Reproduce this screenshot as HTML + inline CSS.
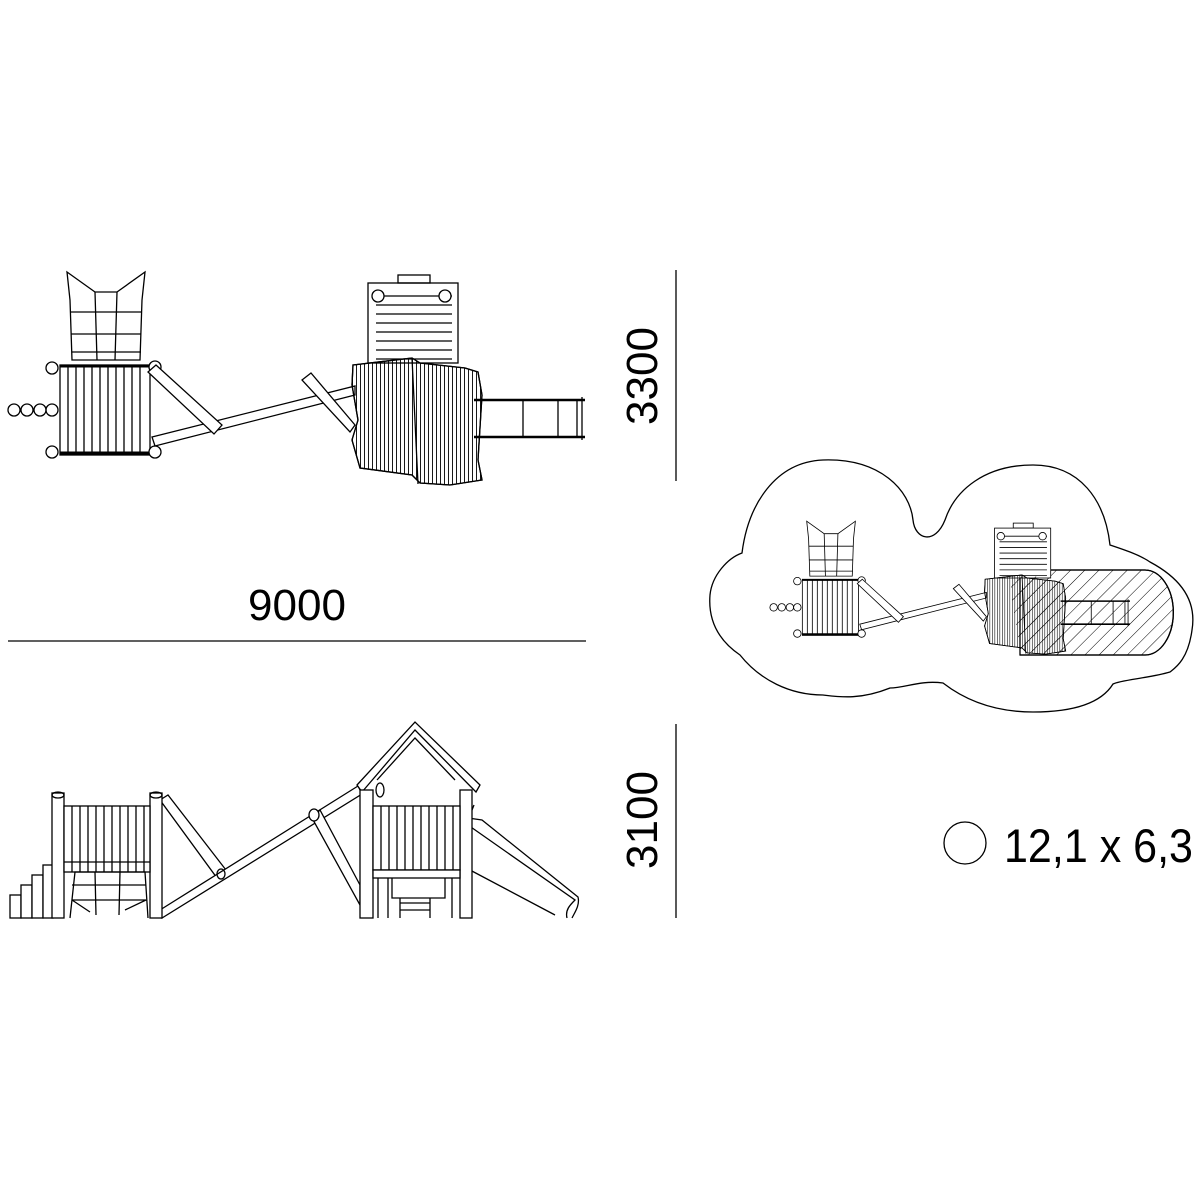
<!DOCTYPE html>
<html><head><meta charset="utf-8"><style>html,body{margin:0;padding:0;background:#fff}svg{display:block}</style></head>
<body>
<svg width="1200" height="1200" viewBox="0 0 1200 1200" xmlns="http://www.w3.org/2000/svg" fill="none" stroke="#000" stroke-width="1.3" font-family="Liberation Sans, sans-serif">
<defs>
<pattern id="vl" width="4" height="10" patternUnits="userSpaceOnUse"><line x1="0.5" y1="0" x2="0.5" y2="10" stroke="#000" stroke-width="0.9"/></pattern>
<pattern id="hatch" width="10" height="10" patternUnits="userSpaceOnUse" patternTransform="rotate(45)"><line x1="0" y1="0" x2="0" y2="10" stroke="#000" stroke-width="1"/></pattern>
<g id="top">
  <!-- net -->
  <path d="M67,272 L95,292 L117,292 L145,272 L142,300 L140,360 L72,360 L70,300 Z" fill="#fff"/>
  <path d="M95,292 L97,360 M117,292 L115,360 M70,312 L142,312 M71,334 L141,334 M72,352 L141,352"/>
  <!-- platform -->
  <rect x="60" y="365" width="90" height="90" fill="#fff"/>
  <path d="M68,365V455 M76,365V455 M84,365V455 M92,365V455 M100,365V455 M108,365V455 M116,365V455 M124,365V455 M132,365V455 M140,365V455"/>
  <path d="M60,366H150 M60,453H150" stroke-width="3"/>
  <circle cx="52" cy="368" r="6" fill="#fff"/><circle cx="155" cy="367" r="6" fill="#fff"/>
  <circle cx="52" cy="452" r="6" fill="#fff"/><circle cx="155" cy="452" r="6" fill="#fff"/>
  <circle cx="14" cy="410" r="6"/><circle cx="27" cy="410" r="6"/><circle cx="40" cy="410" r="6"/><circle cx="52" cy="410" r="6"/>
  <!-- beams -->
  <path d="M152,437 L355,386 L355,395 L155,446 Z" fill="#fff"/>
  <path d="M148,372 L156,365 L222,425 L214,434 Z" fill="#fff"/>
  <path d="M302,380 L311,373 L355,425 L350,432 Z" fill="#fff"/>
  <!-- tower roof top -->
  <rect x="368" y="283" width="90" height="80" fill="#fff"/>
  <rect x="398" y="275" width="32" height="8"/>
  <path d="M376,296H452 M376,305H452 M376,314H452 M376,323H452 M376,332H452 M376,341H452 M376,350H452 M376,359H452"/>
  <circle cx="378" cy="296" r="6" fill="#fff"/><circle cx="445" cy="296" r="6" fill="#fff"/>
  <!-- irregular tower -->
  <path d="M353,365 L412,358 L420,363 L465,368 L478,372 L482,395 L478,460 L482,480 L450,485 L420,483 L412,475 L360,468 L352,440 L358,420 L352,385 Z" fill="url(#vl)"/>
  <path d="M353,365 L412,358 L420,363 L465,368 L478,372 L482,395 L478,460 L482,480 L450,485 L420,483 L412,475 L360,468 L352,440 L358,420 L352,385 Z"/>
  <path d="M412,358 L418,484"/>
  <!-- slide -->
  <path d="M474,400H585 M474,437H585" stroke-width="2.5"/>
  <path d="M523,400V437 M558,400V437 M577,400V437 M582,397V440"/>
</g>
</defs>

<use href="#top"/>

<!-- dimension lines -->
<line x1="676" y1="270" x2="676" y2="481"/>
<line x1="8" y1="641" x2="586" y2="641"/>
<line x1="676" y1="724" x2="676" y2="918"/>
<g fill="#000" stroke="none" font-size="44">
<text x="297" y="620" text-anchor="middle" textLength="98" lengthAdjust="spacingAndGlyphs">9000</text>
<text transform="translate(657,376) rotate(-90)" text-anchor="middle" textLength="98" lengthAdjust="spacingAndGlyphs">3300</text>
<text transform="translate(657,820) rotate(-90)" text-anchor="middle" textLength="98" lengthAdjust="spacingAndGlyphs">3100</text>
<text x="1004" y="862" font-size="47" textLength="189" lengthAdjust="spacingAndGlyphs">12,1 x 6,3</text>
</g>
<circle cx="965" cy="843" r="21"/>

<!-- plan with cloud -->
<path d="M710,595 C712,575 728,558 742,553 C748,505 775,462 823,460 C880,458 910,490 913,520 C915,540 935,545 945,520 C955,490 985,465 1033,465 C1080,465 1105,500 1110,545 C1125,550 1140,555 1150,562 C1180,578 1197,600 1192,630 C1188,660 1175,668 1170,672 C1150,678 1120,680 1113,684 C1100,705 1070,712 1033,712 C995,712 965,700 943,683 C920,680 905,688 890,688 C860,700 840,697 823,695 C790,695 760,680 740,655 C718,640 708,620 710,595 Z"/>
<path d="M1020,570 H1145 A28,42 0 0 1 1145,655 H1020 Z" fill="url(#hatch)"/>
<path d="M1020,570 H1145 A28,42 0 0 1 1145,655 H1020"/>
<use href="#top" transform="translate(764.9,351.5) scale(0.624)"/>
<path d="M1010,575 L1060,578 L1062,655 L1020,650 L1012,600 Z" fill="url(#hatch)" stroke="none"/>

<!-- side view: left tower -->
<g fill="#fff">
<rect x="10" y="895" width="11" height="23"/><rect x="21" y="885" width="11" height="33"/><rect x="32" y="875" width="11" height="43"/><rect x="43" y="865" width="10" height="53"/>
<path d="M160,800 L168,795 L226,870 L217,878 Z"/>
<path d="M160,910 L358,786 L362,794 L162,918 Z"/>
<rect x="52" y="793" width="12" height="125"/>
<rect x="150" y="793" width="12" height="125"/>
<rect x="64" y="806" width="86" height="66"/>
</g>
<ellipse cx="58" cy="795" rx="6" ry="3"/><ellipse cx="156" cy="795" rx="6" ry="3"/>
<ellipse cx="221" cy="874" rx="4" ry="5"/>
<path d="M72,806V872 M80,806V872 M88,806V872 M96,806V872 M104,806V872 M112,806V872 M120,806V872 M128,806V872 M136,806V872 M144,806V872 M64,862H150"/>
<path d="M70,918 L75,872 L145,872 L148,918 M95,872 L96,915 M120,872 L119,915 M72,885 H146 M72,900 H146 L125,910 M72,900 L90,912"/>
<!-- right tower -->
<path d="M312,818 L320,810 L360,885 L360,905 Z" fill="#fff"/>
<ellipse cx="314" cy="815" rx="5" ry="6" fill="#fff"/>
<path d="M470,815 L474,805 M468,825 L575,900 C570,905 565,910 567,918 M470,870 L555,915" />
<path d="M468,818 L482,820 L578,897 C580,905 575,912 572,918"/>
<path d="M357,785 L415,722 L480,785 L476,792 L415,730 L362,792 Z" fill="#fff"/>
<path d="M377,780 L415,738 L455,780"/>
<rect x="360" y="790" width="13" height="128" fill="#fff"/>
<rect x="460" y="790" width="12" height="128" fill="#fff"/>
<ellipse cx="380" cy="790" rx="4" ry="7" fill="#fff"/>
<rect x="373" y="806" width="87" height="64" fill="#fff"/>
<path d="M381,806V870 M389,806V870 M397,806V870 M405,806V870 M413,806V870 M421,806V870 M429,806V870 M437,806V870 M445,806V870 M453,806V870"/>
<rect x="373" y="870" width="87" height="8" fill="#fff"/>
<path d="M378,878V918 M388,878V918 M392,878 V898 H445 V878 M400,898V918 M430,898V918 M400,910H430 M400,903H430 M452,878V918"/>
</svg>
</body></html>
